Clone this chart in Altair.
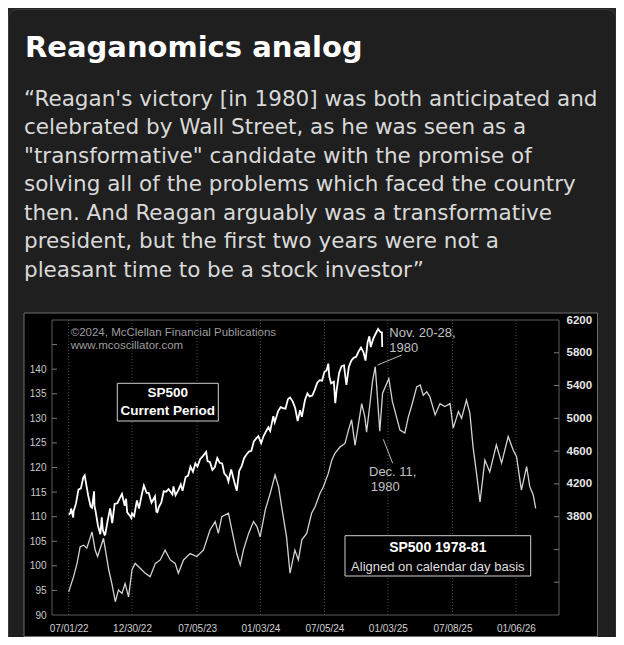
import altair as alt
import pandas as pd

TITLE = "Reaganomics analog"
QUOTE_LINES = [
    "\u201cReagan's victory [in 1980] was both anticipated and",
    "celebrated by Wall Street, as he was seen as a",
    "\"transformative\" candidate with the promise of",
    "solving all of the problems which faced the country",
    "then. And Reagan arguably was a transformative",
    "president, but the first two years were not a",
    "pleasant time to be a stock investor\u201d",
]

# SP500 current period (right axis)
CURRENT_DATES = [
    "2022-07-01", "2022-07-06", "2022-07-08", "2022-07-14", "2022-07-15", "2022-07-22", "2022-07-29",
    "2022-08-05", "2022-08-12", "2022-08-16", "2022-08-19", "2022-08-26", "2022-09-02", "2022-09-06",
    "2022-09-12", "2022-09-13", "2022-09-16", "2022-09-23", "2022-09-30", "2022-10-04", "2022-10-07",
    "2022-10-12", "2022-10-14", "2022-10-21", "2022-10-28", "2022-11-03", "2022-11-10", "2022-11-18",
    "2022-11-25", "2022-12-01", "2022-12-09", "2022-12-13", "2022-12-16", "2022-12-22", "2022-12-28",
    "2022-12-30", "2023-01-05", "2023-01-13", "2023-01-19", "2023-01-27", "2023-02-02", "2023-02-10",
    "2023-02-16", "2023-02-24", "2023-03-06", "2023-03-10", "2023-03-13", "2023-03-17", "2023-03-24",
    "2023-03-31", "2023-04-07", "2023-04-14", "2023-04-25", "2023-04-28", "2023-05-04", "2023-05-12",
    "2023-05-19", "2023-05-24", "2023-06-02", "2023-06-09", "2023-06-16", "2023-06-23", "2023-06-30",
    "2023-07-06", "2023-07-14", "2023-07-21", "2023-07-31", "2023-08-04", "2023-08-11", "2023-08-18",
    "2023-08-25", "2023-09-01", "2023-09-08", "2023-09-15", "2023-09-21", "2023-09-29", "2023-10-03",
    "2023-10-11", "2023-10-20", "2023-10-27", "2023-11-03", "2023-11-10", "2023-11-17", "2023-11-24",
    "2023-12-01", "2023-12-08", "2023-12-15", "2023-12-22", "2023-12-28", "2024-01-05", "2024-01-12",
    "2024-01-19", "2024-01-26", "2024-01-31", "2024-02-09", "2024-02-13", "2024-02-23", "2024-03-01",
    "2024-03-08", "2024-03-15", "2024-03-22", "2024-03-28", "2024-04-05", "2024-04-12", "2024-04-19",
    "2024-04-26", "2024-05-01", "2024-05-10", "2024-05-17", "2024-05-23", "2024-05-31", "2024-06-07",
    "2024-06-14", "2024-06-21", "2024-06-28", "2024-07-05", "2024-07-11", "2024-07-16", "2024-07-19",
    "2024-07-24", "2024-08-01", "2024-08-05", "2024-08-09", "2024-08-16", "2024-08-23", "2024-08-30",
    "2024-09-06", "2024-09-13", "2024-09-20", "2024-09-27", "2024-10-04", "2024-10-11", "2024-10-18",
    "2024-10-25", "2024-10-31", "2024-11-06", "2024-11-11", "2024-11-15", "2024-11-22", "2024-11-29",
    "2024-12-06", "2024-12-13", "2024-12-17", "2024-12-18",
]
CURRENT_VALUES = [
    3825, 3845, 3899, 3790, 3863, 3962, 4130,
    4145, 4280, 4305, 4228, 4058, 3924, 3909,
    4110, 3932, 3873, 3693, 3586, 3791, 3640,
    3577, 3583, 3752, 3901, 3720, 3956, 3965,
    4026, 4077, 3934, 4019, 3852, 3822, 3783,
    3840, 3808, 3999, 3899, 4070, 4179, 4090,
    4090, 3970, 4048, 3862, 3855, 3917, 3971,
    4109, 4105, 4137, 4071, 4169, 4061, 4124,
    4192, 4115, 4282, 4299, 4410, 4348, 4450,
    4411, 4505, 4536, 4589, 4478, 4464, 4370,
    4406, 4516, 4457, 4450, 4330, 4288, 4229,
    4377, 4224, 4117, 4358, 4415, 4514, 4559,
    4595, 4604, 4719, 4755, 4783, 4697, 4784,
    4840, 4891, 4846, 5027, 4953, 5089, 5137,
    5124, 5117, 5234, 5254, 5204, 5123, 4967,
    5100, 5018, 5223, 5303, 5268, 5278, 5347,
    5431, 5465, 5460, 5567, 5585, 5667, 5505,
    5427, 5446, 5186, 5344, 5554, 5635, 5648,
    5408, 5626, 5703, 5738, 5751, 5815, 5864,
    5808, 5705, 5929, 6001, 5870, 5969, 6032,
    6090, 6051, 6050, 5872,
]

# SP500 1978-81 (left axis), original dates; aligned on a calendar day basis (+44 years)
ANALOG_DATES = [
    "1978-07-01", "1978-07-15", "1978-07-25", "1978-08-03", "1978-08-13", "1978-08-22", "1978-09-06",
    "1978-09-15", "1978-09-22", "1978-10-09", "1978-10-24", "1978-11-02", "1978-11-12", "1978-11-21",
    "1978-12-01", "1978-12-10", "1978-12-20", "1978-12-30", "1979-01-08", "1979-01-18", "1979-02-06",
    "1979-02-20", "1979-03-07", "1979-03-21", "1979-04-04", "1979-04-19", "1979-05-03", "1979-05-12",
    "1979-05-27", "1979-06-15", "1979-07-04", "1979-07-23", "1979-08-11", "1979-08-26", "1979-09-04",
    "1979-09-14", "1979-10-03", "1979-10-17", "1979-10-27", "1979-11-06", "1979-11-15", "1979-11-30",
    "1979-12-14", "1979-12-24", "1980-01-02", "1980-01-17", "1980-01-31", "1980-02-14", "1980-02-24",
    "1980-03-04", "1980-03-18", "1980-03-28", "1980-04-11", "1980-04-21", "1980-05-01", "1980-05-15",
    "1980-05-29", "1980-06-08", "1980-06-22", "1980-07-02", "1980-07-16", "1980-07-26", "1980-08-04",
    "1980-08-19", "1980-09-02", "1980-09-12", "1980-09-21", "1980-10-01", "1980-10-20", "1980-10-29",
    "1980-11-03", "1980-11-12", "1980-11-20", "1980-11-28", "1980-12-04", "1980-12-11", "1980-12-19",
    "1981-01-06", "1981-01-16", "1981-01-28", "1981-02-07", "1981-02-21", "1981-03-03", "1981-03-12",
    "1981-03-27", "1981-04-06", "1981-04-15", "1981-04-25", "1981-05-04", "1981-05-19", "1981-06-02",
    "1981-06-16", "1981-07-01", "1981-07-10", "1981-07-25", "1981-08-03", "1981-08-17", "1981-08-27",
    "1981-09-05", "1981-09-15", "1981-09-25", "1981-10-09", "1981-10-23", "1981-11-11", "1981-11-26",
    "1981-12-15", "1981-12-29", "1982-01-08", "1982-01-22", "1982-02-06", "1982-02-15", "1982-02-25",
    "1982-03-04",
]
ANALOG_VALUES = [
    94.7, 97.8, 100.5, 103.9, 104.2, 103.6, 106.9,
    103.2, 101.9, 105.6, 99.2, 96.4, 92.7, 95.1,
    94.4, 96.4, 93.7, 99.2, 100.5, 99.8, 98.5,
    97.8, 100.5, 101.2, 103.2, 101.2, 100.5, 98.5,
    101.2, 102.5, 101.9, 103.2, 107.3, 109.0, 106.6,
    110.0, 110.7, 105.9, 102.5, 100.2, 103.2, 106.6,
    109.0, 108.0, 105.9, 111.4, 114.7, 118.5, 116.1,
    112.0, 105.9, 98.5, 103.2, 101.2, 105.3, 106.6,
    110.7, 112.0, 114.7, 116.1, 118.8, 121.5, 122.9,
    124.2, 124.9, 127.6, 129.7, 124.5, 133.0, 130.3,
    127.2, 132.5, 137.5, 140.5, 134.5, 127.4, 135.1,
    138.1, 133.5, 130.3, 127.6, 127.0, 130.3, 132.4,
    136.4, 136.8, 134.7, 135.4, 134.4, 130.7, 133.0,
    132.4, 133.0, 128.0, 131.4, 130.0, 133.7, 131.0,
    124.2, 118.8, 113.0, 121.5, 119.1, 124.6, 120.9,
    126.3, 123.6, 122.2, 115.4, 120.2, 116.1, 114.4,
    111.7,
]

X_TICK_DATES = ["2022-07-01", "2022-12-30", "2023-07-05", "2024-01-03",
                "2024-07-05", "2025-01-03", "2025-07-08", "2026-01-06"]
X_DOMAIN = ["2022-05-14", "2026-05-10"]
LEFT_DOMAIN = [90, 150]
LEFT_LABELS = [90, 95, 100, 105, 110, 115, 120, 125, 130, 135, 140]
LEFT_TICKS = [95, 100, 105, 110, 115, 120, 125, 130, 135, 140, 145]
RIGHT_DOMAIN = [2600, 6200]
RIGHT_LABELS = [3800, 4200, 4600, 5000, 5400, 5800, 6200]
RIGHT_TICKS = [3000, 3400, 3800, 4200, 4600, 5000, 5400, 5800]

current = pd.DataFrame({"date": pd.to_datetime(CURRENT_DATES), "value": CURRENT_VALUES})
analog = pd.DataFrame({"date": pd.to_datetime(ANALOG_DATES) + pd.DateOffset(years=44),
                       "value": ANALOG_VALUES})
grid_df = pd.DataFrame({"date": pd.to_datetime(X_TICK_DATES)})
ONE = pd.DataFrame({"k": [0]})


def dt(s):
    t = pd.Timestamp(s)
    return alt.DateTime(year=t.year, month=t.month, date=t.day)


W, H = 507, 295
CHART_FONT = "Liberation Sans"
TEXT_FONT = "DejaVu Sans"

x_axis = alt.Axis(values=[dt(s) for s in X_TICK_DATES], format="%m/%d/%y", title=None,
                  grid=False, ticks=False, tickSize=0, domain=False, labelFont=CHART_FONT,
                  labelFontSize=10, labelColor="#cfcfcf", labelPadding=8, labelOverlap=False,
                  zindex=1)
x_scale = alt.Scale(domain=[dt(X_DOMAIN[0]), dt(X_DOMAIN[1])])
x_enc = alt.X("date:T", scale=x_scale, axis=x_axis)

left_scale = alt.Scale(domain=LEFT_DOMAIN, nice=False, zero=False)
right_scale = alt.Scale(domain=RIGHT_DOMAIN, nice=False, zero=False)


def rect(x, x2, y, y2, **kw):
    return alt.Chart(ONE).mark_rect(**kw).encode(
        x=alt.value(x), x2=alt.value(x2), y=alt.value(y), y2=alt.value(y2))


def txt(s, x, y, size, color, weight="normal", align="left", font=CHART_FONT, baseline="middle", **kw):
    return alt.Chart(ONE).mark_text(align=align, baseline=baseline, font=font, fontSize=size,
                                    fontWeight=weight, color=color, **kw).encode(
        x=alt.value(x), y=alt.value(y), text=alt.value(s))


def seg(x, y, x2, y2, color="#bdbdbd"):
    return alt.Chart(ONE).mark_rule(color=color, strokeWidth=1).encode(
        x=alt.value(x), y=alt.value(y), x2=alt.value(x2), y2=alt.value(y2))


card = rect(-43.5, 564, -310.5, 340, fill="#1f1f1f", stroke="#3a3a3a", strokeWidth=1, cornerRadius=9)
panel = rect(-28, 545.5, -7, 316.5, fill="#000000", stroke="#6e6e6e", strokeWidth=1)
frame = rect(0, W, 0, H, fill="#000000", fillOpacity=0, stroke="#5c5c5c", strokeWidth=1)

grid = alt.Chart(grid_df).mark_rule(color="#4a4a4a", strokeDash=[1, 2], strokeWidth=1).encode(
    x=x_enc, y=alt.value(0), y2=alt.value(H))

analog_line = alt.Chart(analog).mark_line(color="#d2d2d2", strokeWidth=1.3).encode(
    x=x_enc,
    y=alt.Y("value:Q", scale=left_scale,
            axis=alt.Axis(orient="left", values=LEFT_LABELS, format="d", title=None, grid=False,
                          ticks=False, tickSize=0, domain=False, labelFont=CHART_FONT,
                          labelFontSize=10, labelColor="#cacaca", labelPadding=6,
                          labelOverlap=False, zindex=1)))

current_line = alt.Chart(current).mark_line(color="#ffffff", strokeWidth=1.8).encode(
    x=x_enc,
    y=alt.Y("value:Q", scale=right_scale,
            axis=alt.Axis(orient="right", values=RIGHT_LABELS, format="d", title=None, grid=False,
                          ticks=False, tickSize=0, domain=False, labelFont=CHART_FONT,
                          labelFontSize=11.5, labelFontWeight="bold", labelColor="#e6e6e6",
                          labelPadding=7, labelOverlap=False, zindex=1)))

ticks_left = alt.Chart(pd.DataFrame({"v": LEFT_TICKS})).mark_rule(color="#7a7a7a").encode(
    y=alt.Y("v:Q", scale=left_scale, axis=None), x=alt.value(0), x2=alt.value(5))
ticks_right = alt.Chart(pd.DataFrame({"v": RIGHT_TICKS})).mark_rule(color="#7a7a7a").encode(
    y=alt.Y("v:Q", scale=right_scale, axis=None), x=alt.value(W - 5), x2=alt.value(W))

layers = [
    card, panel, grid, frame, analog_line, current_line, ticks_left, ticks_right,
    txt("\u00a92024, McClellan Financial Publications", 18.7, 12.7, 11.5, "#9c9c9c"),
    txt("www.mcoscillator.com", 18.7, 26, 11.5, "#9c9c9c"),
    rect(65.3, 166.3, 63.3, 101, fill="#000000", stroke="#cfcfcf", strokeWidth=1),
    txt("SP500", 115.8, 73.3, 13.5, "#ffffff", weight="bold", align="center"),
    txt("Current Period", 115.8, 91, 13.5, "#ffffff", weight="bold", align="center"),
    rect(293, 478.7, 215.7, 256, fill="#000000", stroke="#cfcfcf", strokeWidth=1),
    txt("SP500 1978-81", 385.8, 228.3, 14, "#ffffff", weight="bold", align="center"),
    txt("Aligned on calendar day basis", 385.8, 246.7, 13, "#dedede", align="center"),
    txt("Nov. 20-28,", 337.3, 12.8, 13, "#c0c0c0"),
    txt("1980", 337.3, 27.7, 13, "#c0c0c0"),
    seg(325.7, 45, 349.7, 35),
    txt("Dec. 11,", 317, 151.7, 13, "#c0c0c0"),
    txt("1980", 318.7, 167, 13, "#c0c0c0"),
    seg(331.3, 119.3, 340.7, 143.3),
    txt(TITLE, -27, -263, 29, "#ffffff", weight="bold", font=TEXT_FONT, baseline="alphabetic"),
    txt(QUOTE_LINES, -28, -214, 21.5, "#d9d9d9", font=TEXT_FONT, baseline="alphabetic",
        lineHeight=28.45),
]

chart = alt.layer(*layers).resolve_scale(y="independent").properties(
    width=W, height=H,
    padding={"left": 44, "top": 312, "right": 57, "bottom": 22},
    autosize=alt.AutoSizeParams(type="none"),
).configure(background="#262626").configure_view(stroke="transparent")

chart.save("out.html", embed_options={"renderer": "svg", "actions": False})
